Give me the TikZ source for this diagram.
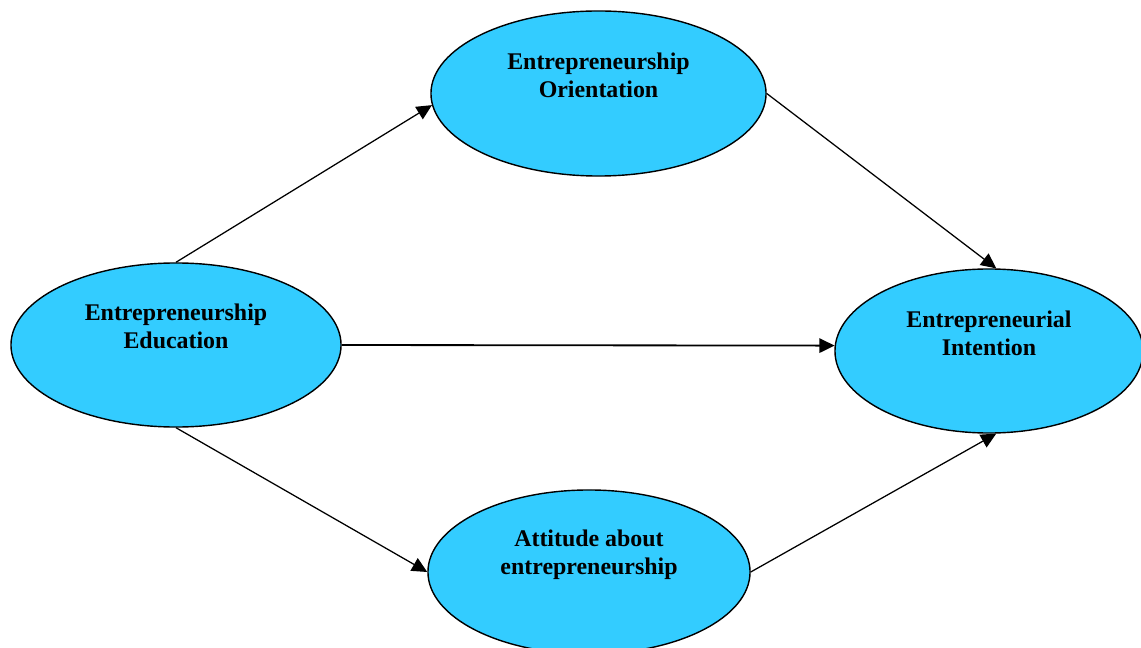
\documentclass[tikz,border=0pt]{standalone}
\usepackage{xcolor}
\usepackage{fontspec}
\setmainfont{Liberation Serif}
\usetikzlibrary{positioning, shapes.geometric, arrows.meta}
\definecolor{skyfill}{HTML}{33CCFF}
\tikzset{
    construct/.style = {ellipse, draw = black, fill = skyfill, line width = 1pt, inner sep = 0pt},
    caption/.style = {align = center, font = \fontsize{17}{19.5}\selectfont\bfseries},
    link/.style = {-{Triangle[length = 0.38cm, width = 0.36cm]}, line width = 0.9pt}
}

\begin{document}
\begin{tikzpicture}[x = 0.025cm, y = -0.025cm]
        \clip (0, 0) rectangle (1141, 648);
        \fill [white] (0, 0) rectangle (1141, 648);
        % the four constructs
        \node [construct, minimum width = 8.375cm, minimum height = 4.125cm] (ori) at (598.5, 93.5) {};
        \node [construct, minimum width = 8.25cm, minimum height = 4.1cm] (edu) at (176, 345) {};
        \node [construct, minimum width = 7.7cm, minimum height = 4.1cm] (int) at (989, 351) {};
        \node [construct, minimum width = 8.05cm, minimum height = 4.1cm] (att) at (589, 572) {};
        % their names, set a bit above the middle
        \node [caption, yshift = 0.45cm] (tori) at (ori) {Entrepreneurship\\Orientation};
        \node [caption, yshift = 0.47cm] (tedu) at (edu) {Entrepreneurship\\Education};
        \node [caption, yshift = 0.44cm] (tint) at (int) {Entrepreneurial\\Intention};
        \node [caption, yshift = 0.43cm] (tatt) at (att) {Attitude about\\entrepreneurship};
        % paths between them
        \draw [link] (edu.north) -- (ori.184);
        \draw [link] (ori.east) -- (int.85);
        \draw [link, line width = 1.3pt] (edu.east) -- (int.178);
        \draw [link] (edu.south) -- (att.west);
        \draw [link] (att.east) -- (int.275);
    \end{tikzpicture}
\end{document}
